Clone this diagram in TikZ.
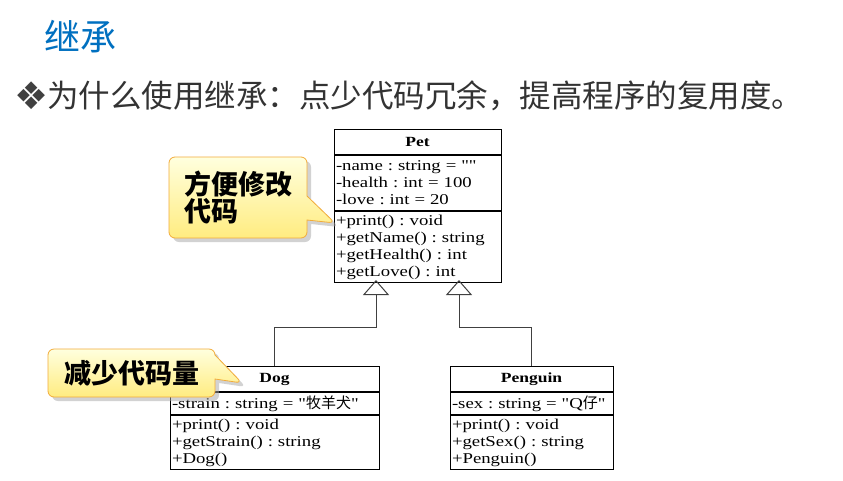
\documentclass[tikz,border=0pt]{standalone}
\usepackage{fontspec}
\setmainfont{Liberation Serif}
\newfontfamily\umlfont{Liberation Serif}[FakeStretch=1.25]
\newfontfamily\cjk{Noto Sans CJK SC}
\newfontfamily\sym{DejaVu Sans}
\usepackage{tikz}
\usetikzlibrary{positioning, shapes.callouts, shadows, arrows.meta}
\frenchspacing

\definecolor{titleblue}{RGB}{0,112,192}
\definecolor{tipline}{RGB}{242,172,58}
\definecolor{tiptop}{RGB}{255,255,222}
\definecolor{tipbottom}{RGB}{255,236,128}

\tikzset{
	umlhead/.style={draw, line width=1pt, inner sep=0pt, minimum height=25pt,
		font=\umlfont\fontsize{14}{17}\selectfont\bfseries},
	umlpart/.style={draw, line width=1pt, inner xsep=2pt, inner ysep=0pt, align=left,
		font=\umlfont\fontsize{15}{17}\selectfont},
	inherit/.style={draw=black!75, line width=1pt, -{Triangle[open, length=15pt, width=26pt]}},
	tip/.style={rectangle callout, rounded corners=6pt, draw=tipline, line width=0.8pt,
		top color=tiptop, bottom color=tipbottom, callout pointer width=24pt,
		drop shadow={shadow xshift=4pt, shadow yshift=-4pt, fill=black!35},
		font=\cjk\bfseries\fontsize{27}{27}\selectfont, align=left, inner sep=0pt}
}

\begin{document}
\begin{tikzpicture}[x=1pt, y=-1pt]
	\path[use as bounding box, fill=white] (0,0) rectangle (843,480);
	
	% titulo
	\node[font=\cjk\fontsize{36}{36}\selectfont, text=titleblue, anchor=west, inner sep=0pt] (title) at (44,37) {继承};
	\node[font=\sym\fontsize{38}{38}\selectfont, text=black!75, anchor=center, inner sep=0pt] (bullet) at (32,96) {❖};
	\node[font=\cjk\fontsize{31.5}{32}\selectfont, text=black!80, anchor=west, inner sep=0pt] (why) at (47,96) {为什么使用继承：点少代码冗余，提高程序的复用度。};
	
	% Pet
	\node[umlhead, minimum width=167pt, anchor=north] (pet) at (417.5,129) {Pet};
	\node[umlpart, text width=163pt, minimum height=55pt, below=0pt of pet] (petattr)
		{-name : string = ""\\-health : int = 100\\-love : int = 20};
	\node[umlpart, text width=163pt, minimum height=71pt, below=0pt of petattr] (petops)
		{+print() : void\\+getName() : string\\+getHealth() : int\\+getLove() : int};
	
	% Dog
	\node[umlhead, minimum width=209pt, anchor=north] (dog) at (274.5,366) {Dog};
	\node[umlpart, text width=205pt, minimum height=22pt, below=0pt of dog] (dogattr)
		{-strain : string = "{\cjk 牧羊犬}"};
	\node[umlpart, text width=205pt, minimum height=54pt, below=0pt of dogattr] (dogops)
		{+print() : void\\+getStrain() : string\\+Dog()};
	
	% Penguin
	\node[umlhead, minimum width=163pt, anchor=north] (penguin) at (531.5,366) {Penguin};
	\node[umlpart, text width=159pt, minimum height=22pt, below=0pt of penguin] (penguinattr)
		{-sex : string = "Q{\cjk 仔}"};
	\node[umlpart, text width=159pt, minimum height=54pt, below=0pt of penguinattr] (penguinops)
		{+print() : void\\+getSex() : string\\+Penguin()};
	
	% heranca
	\coordinate (petL) at (376,280);
	\coordinate (petR) at (459,280);
	\draw[inherit] (dog.north) -- ++(0,-39) -| (petL);
	\draw[inherit] (penguin.north) -- ++(0,-39) -| (petR);
	
	% baloes
	\coordinate (tipA) at (335,223);
	\coordinate (tipB) at (242,383);
	\node[tip, callout absolute pointer=(tipA), minimum width=138pt, minimum height=81pt] (easyfix) at (238,197.5) {方便修改\\代码};
	\node[tip, callout absolute pointer=(tipB), minimum width=167pt, minimum height=48pt] (lesscode) at (131.5,373) {减少代码量};
\end{tikzpicture}
\end{document}
